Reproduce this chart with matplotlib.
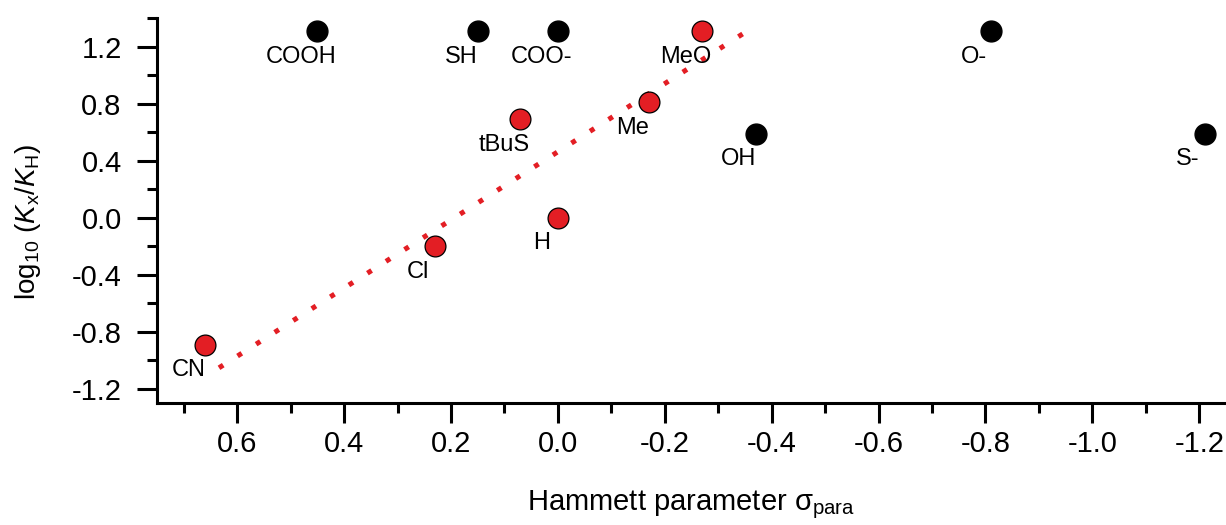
import numpy as np
import matplotlib
matplotlib.use("Agg")
import matplotlib.pyplot as plt
from matplotlib.ticker import MultipleLocator

# ── Data ─────────────────────────────────────────────────────────────────────
# substituents that follow the Hammett correlation (red)
fit_names = ["CN", "Cl", "H", "tBuS", "Me", "MeO"]
fit_sigma = [0.66, 0.23, 0.00, 0.07, -0.17, -0.27]
fit_logk = [-0.89, -0.20, 0.00, 0.69, 0.81, 1.31]

# substituents outside the correlation (black)
out_names = ["COOH", "SH", "COO-", "O-", "OH", "S-"]
out_sigma = [0.45, 0.15, 0.00, -0.81, -0.37, -1.21]
out_logk = [1.31, 1.31, 1.31, 1.31, 0.59, 0.59]

# dotted linear fit:  log(Kx/KH) = intercept + slope * sigma
fit_slope = -2.39
fit_intercept = 0.462
fit_range = [0.634, -0.351]

x_major = 0.2
y_major = 0.4

plt.rcParams["font.family"] = ["Liberation Sans", "DejaVu Sans"]
plt.rcParams["mathtext.fontset"] = "custom"
plt.rcParams["mathtext.rm"] = "Liberation Sans"
plt.rcParams["mathtext.it"] = "Liberation Sans:italic"

RED = "#e31e24"

fig = plt.figure(figsize=(12.26, 5.25), dpi=100)
ax = fig.add_axes([157 / 1226, 1 - 403 / 525, 1069 / 1226, 385 / 525])

xs = np.array(fit_range)
ax.plot(xs, fit_intercept + fit_slope * xs, color=RED, lw=3.6,
        linestyle=(0, (1, 3.4)), dash_capstyle="butt", zorder=2)

ax.scatter(out_sigma, out_logk, s=15 ** 2, color="black", zorder=3)
ax.scatter(fit_sigma, fit_logk, s=15 ** 2, color=RED,
           edgecolor="black", linewidth=0.9, zorder=3)

for name, x, y in zip(out_names + fit_names, out_sigma + fit_sigma,
                      out_logk + fit_logk):
    ax.annotate(name, (x, y), xytext=(-12, -18.5), textcoords="offset points",
                ha="center", va="center", fontsize=17)

ax.set_xlim(0.75, -1.25)
ax.set_ylim(-1.3, 1.4)
ax.xaxis.set_major_locator(MultipleLocator(x_major))
ax.xaxis.set_minor_locator(MultipleLocator(x_major / 2))
ax.yaxis.set_major_locator(MultipleLocator(y_major))
ax.yaxis.set_minor_locator(MultipleLocator(y_major / 2))
ax.xaxis.set_major_formatter(lambda v, p: f"{v:.1f}".replace("-0.0", "0.0"))
ax.yaxis.set_major_formatter(lambda v, p: f"{v:.1f}".replace("-0.0", "0.0"))

for side in ("top", "right"):
    ax.spines[side].set_visible(False)
for side in ("left", "bottom"):
    ax.spines[side].set_linewidth(2.2)

ax.tick_params(which="major", direction="out", length=14.4, width=2.2,
               labelsize=21)
ax.tick_params(axis="y", which="major", pad=11)
ax.tick_params(axis="x", which="major", pad=5)
ax.tick_params(which="minor", direction="out", length=7.2, width=2.2)

ax.set_xlabel("Hammett parameter σ$_{\\mathrm{para}}$", fontsize=21)
ax.set_ylabel(r"log$_{10}$ ($K_{\mathrm{x}}/K_{\mathrm{H}}$)", fontsize=20)
ax.xaxis.set_label_coords(0.5, -0.222)
ax.yaxis.set_label_coords(-0.107, 0.471)

fig.savefig("out.png", dpi=100)
